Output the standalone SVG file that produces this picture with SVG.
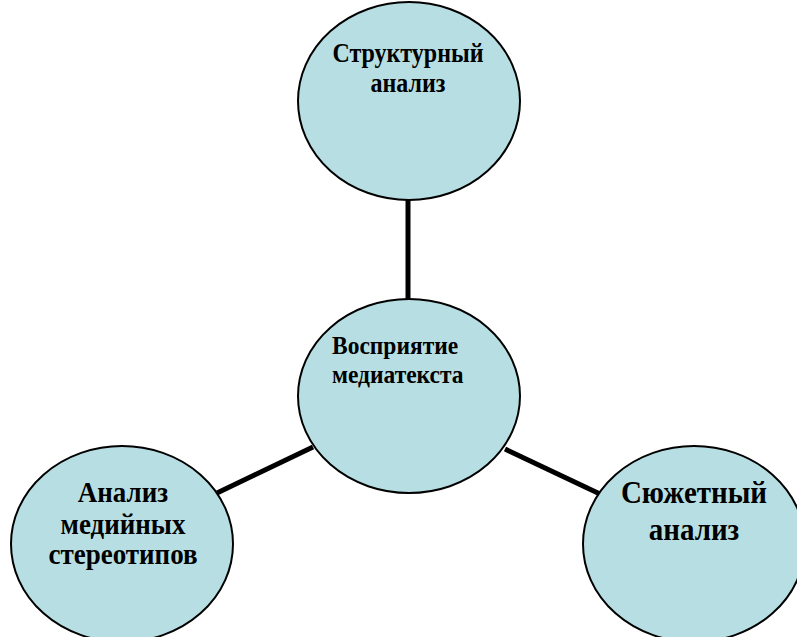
<svg xmlns="http://www.w3.org/2000/svg" width="797" height="637" viewBox="0 0 797 637">
<style>
.n{fill:#b7dfe3;stroke:#000;stroke-width:2}
.t{font-family:"Liberation Serif","Times New Roman",serif;font-weight:bold;fill:#000}
.c{stroke:#000;stroke-width:5;fill:none}
</style>
<rect width="797" height="637" fill="#fff"/>
<g id="connectors">
<line class="c" x1="408" y1="200" x2="408" y2="301"/>
<line class="c" x1="313" y1="447" x2="217" y2="493"/>
<line class="c" x1="505" y1="449" x2="600" y2="494"/>
</g>
<g id="top">
<ellipse class="n" cx="409" cy="101" rx="111" ry="99"/>
<text class="t" font-size="24" text-anchor="middle" transform="translate(0,77) scale(1,1.1) translate(0,-77)"><tspan x="408" y="63">Структурный</tspan><tspan x="408" y="91">анализ</tspan></text>
</g>
<g id="center">
<ellipse class="n" cx="409" cy="396" rx="111" ry="97"/>
<text class="t" font-size="23.5" transform="translate(0,369) scale(1,1.1) translate(0,-369)"><tspan x="332" y="355">Восприятие</tspan><tspan x="332" y="382">медиатекста</tspan></text>
</g>
<g id="left">
<ellipse class="n" cx="122" cy="544" rx="111" ry="98"/>
<text class="t" font-size="27" text-anchor="middle" transform="translate(0,534) scale(1,1.1) translate(0,-534)"><tspan x="123" y="505">Анализ</tspan><tspan x="123" y="534">медийных</tspan><tspan x="123" y="561">стереотипов</tspan></text>
</g>
<g id="right">
<ellipse class="n" cx="694" cy="544" rx="111" ry="98"/>
<text class="t" font-size="29" text-anchor="middle" transform="translate(0,522) scale(1,1.1) translate(0,-522)"><tspan x="694" y="505">Сюжетный</tspan><tspan x="694" y="538">анализ</tspan></text>
</g>
</svg>
